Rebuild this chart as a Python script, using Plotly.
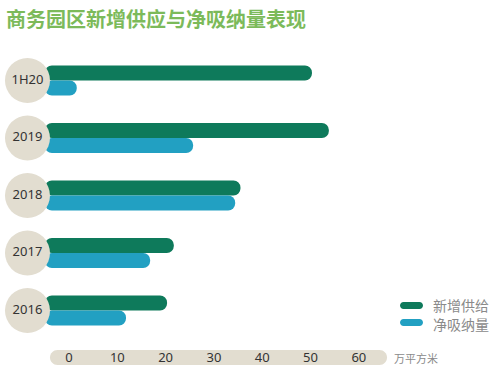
import plotly.graph_objects as go

# ---- data ----
categories = ["1H20", "2019", "2018", "2017", "2016"]
new_supply = [50.3, 53.8, 35.5, 21.7, 20.3]      # 新增供给
net_absorption = [1.6, 25.7, 34.4, 16.8, 11.8]   # 净吸纳量
tick_values = [0, 10, 20, 30, 40, 50, 60]
title_text = "商务园区新增供应与净吸纳量表现"
series_names = ["新增供给", "净吸纳量"]
unit_text = "万平方米"

# ---- style ----
W, H = 500, 376
ML, MR, MT, MB = 0, 0, 40, 31
PLOT_H = H - MT - MB
X_MIN, X_MAX = -14.29, 89.23
BAR_BASE = -5
CIRCLE_X = -8.6
GREEN = "#0e7a5b"
BLUE = "#22a0c2"
BEIGE = "#e2ddd0"
FONT = "Noto Sans, Noto Sans CJK SC"


def px(x):
    return x / W


def py(y):
    return (H - MB - y) / PLOT_H


def pill(x0, x1, yc, h):
    r = h / 2
    k = 0.5523 * r
    pts = [
        ("M", [(x0 + r, yc - r)]),
        ("L", [(x1 - r, yc - r)]),
        ("C", [(x1 - r + k, yc - r), (x1, yc - k), (x1, yc)]),
        ("C", [(x1, yc + k), (x1 - r + k, yc + r), (x1 - r, yc + r)]),
        ("L", [(x0 + r, yc + r)]),
        ("C", [(x0 + r - k, yc + r), (x0, yc + k), (x0, yc)]),
        ("C", [(x0, yc - k), (x0 + r - k, yc - r), (x0 + r, yc - r)]),
    ]
    s = ""
    for cmd, ps in pts:
        s += cmd + " " + " ".join(f"{px(a):.5f},{py(b):.5f}" for a, b in ps) + " "
    return s + "Z"


fig = go.Figure()
fig.add_trace(go.Bar(
    y=categories, x=[v - BAR_BASE for v in new_supply], base=BAR_BASE,
    orientation="h", name=series_names[0], marker=dict(color=GREEN, line=dict(width=0)),
))
fig.add_trace(go.Bar(
    y=categories, x=[v - BAR_BASE for v in net_absorption], base=BAR_BASE,
    orientation="h", name=series_names[1], marker=dict(color=BLUE, line=dict(width=0)),
))
fig.add_trace(go.Scatter(
    y=categories, x=[CIRCLE_X] * len(categories), mode="markers+text",
    text=categories, textposition="middle center",
    textfont=dict(size=13, color="#333333", family=FONT),
    marker=dict(size=45, color=BEIGE, line=dict(width=0)),
    showlegend=False, cliponaxis=False,
))

shapes = [
    dict(type="path", xref="paper", yref="paper", path=pill(50, 387, 357.5, 15),
         fillcolor=BEIGE, line=dict(width=0), layer="below"),
    dict(type="path", xref="paper", yref="paper", path=pill(400, 423, 305.5, 7),
         fillcolor=GREEN, line=dict(width=0), layer="above"),
    dict(type="path", xref="paper", yref="paper", path=pill(400, 423, 322.5, 7),
         fillcolor=BLUE, line=dict(width=0), layer="above"),
]

annotations = [
    dict(text=f"<b>{title_text}</b>", x=px(4), y=py(19), xref="paper", yref="paper",
         xanchor="left", yanchor="middle", showarrow=False,
         font=dict(size=20, color="#7cba5a", family="Noto Sans CJK SC")),
    dict(text=series_names[0], x=px(431), y=py(305), xref="paper", yref="paper",
         xanchor="left", yanchor="middle", showarrow=False,
         font=dict(size=14, color="#8a8a8a", family="Noto Sans CJK SC")),
    dict(text=series_names[1], x=px(431), y=py(324), xref="paper", yref="paper",
         xanchor="left", yanchor="middle", showarrow=False,
         font=dict(size=14, color="#8a8a8a", family="Noto Sans CJK SC")),
    dict(text=unit_text, x=px(392), y=py(358), xref="paper", yref="paper",
         xanchor="left", yanchor="middle", showarrow=False,
         font=dict(size=11, color="#8a8a8a", family="Noto Sans CJK SC")),
]

fig.update_layout(
    width=W, height=H,
    margin=dict(l=ML, r=MR, t=MT, b=MB, pad=0),
    paper_bgcolor="white", plot_bgcolor="white",
    barmode="group", bargap=0.478, bargroupgap=0, barcornerradius="50%",
    showlegend=False, hovermode=False,
    shapes=shapes, annotations=annotations,
    xaxis=dict(range=[X_MIN, X_MAX], tickvals=tick_values, showgrid=False,
               zeroline=False, showline=False, ticks="",
               tickfont=dict(size=13, color="#333333", family=FONT),
               ticklabelstandoff=3),
    yaxis=dict(type="category", categoryorder="array", categoryarray=categories,
               range=[4.6, -0.704], showgrid=False, zeroline=False,
               showline=False, showticklabels=False, ticks=""),
    font=dict(family=FONT),
)

fig.write_html(
    "out.html",
    config={"displayModeBar": False, "staticPlot": True},
    post_script="document.body.style.margin='0';document.body.style.overflow='hidden';",
)
